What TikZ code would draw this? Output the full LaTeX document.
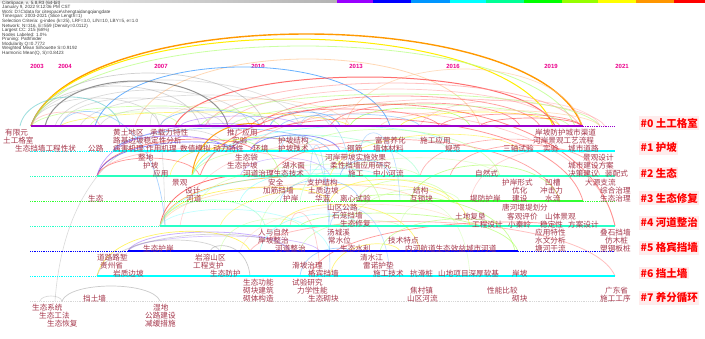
\documentclass[tikz,border=0pt]{standalone}
\usepackage{fontspec}
\newfontfamily\cjk{Noto Sans CJK SC}
\newfontfamily\lib{Liberation Sans}
\definecolor{kw}{RGB}{165,55,75}
\definecolor{clfill}{RGB}{255,236,236}
\definecolor{co}{RGB}{255,153,0}
\definecolor{cy}{RGB}{255,238,0}
\definecolor{cgl}{RGB}{190,255,140}
\definecolor{cpe}{RGB}{255,200,150}
\definecolor{cbl}{RGB}{90,170,255}
\definecolor{cgr}{RGB}{150,150,150}
\definecolor{cdg}{RGB}{100,100,100}
\definecolor{cre}{RGB}{255,50,50}
\definecolor{cpi}{RGB}{255,150,150}
\definecolor{cte}{RGB}{90,200,200}
\definecolor{cpu}{RGB}{150,100,255}
\definecolor{cli}{RGB}{150,255,50}
\definecolor{ccy}{RGB}{100,255,255}
\definecolor{cmi}{RGB}{150,255,200}
\definecolor{cdb}{RGB}{50,50,255}
\definecolor{r0}{RGB}{153,0,204}
\definecolor{r1}{RGB}{0,255,255}
\definecolor{r2}{RGB}{40,255,190}
\definecolor{r3}{RGB}{50,255,50}
\definecolor{r4}{RGB}{40,255,200}
\definecolor{r5}{RGB}{0,0,255}
\definecolor{r6}{RGB}{0,255,255}
\definecolor{r7}{RGB}{215,215,215}
\begin{document}
\begin{tikzpicture}[x=1pt,y=-1pt,
  kwl/.style={anchor=west,inner sep=0pt,text=kw,font=\cjk\fontsize{7.6}{8}\selectfont},
  clab/.style={anchor=west,fill=clfill,text=red,inner sep=1.5pt,font=\cjk\bfseries\fontsize{10.5}{11}\selectfont},
  yr/.style={text=magenta,inner sep=0pt,font=\lib\bfseries\fontsize{6}{6}\selectfont},
  solidrow/.style={line width=1.8pt},
  dotrow/.style={line width=0.8pt,densely dotted}]
\fill[white] (0,0) rectangle (705,338);
\useasboundingbox (0,0) rectangle (705,338);
% top colour bar
\shade[left color=gray!12,right color=gray!60] (0,0) rectangle (337,2.5);
\foreach \xa/\xb/\cc in {337/373/{rgb,255:red,153;green,0;blue,255},373/411/{rgb,255:red,0;green,0;blue,255},411/450/{rgb,255:red,0;green,150;blue,255},450/486/{rgb,255:red,0;green,255;blue,255},486/524/{rgb,255:red,0;green,255;blue,150},524/562/{rgb,255:red,0;green,255;blue,0},562/598/{rgb,255:red,150;green,255;blue,0},598/636/{rgb,255:red,255;green,255;blue,0},636/674/{rgb,255:red,255;green,150;blue,0},674/705/{rgb,255:red,255;green,0;blue,0}}
  \fill[color=\cc] (\xa,0) rectangle (\xb,2.5);
% header
\node[anchor=north west,inner sep=0pt,align=left,text=black!75,font=\lib\fontsize{4.6}{4.55}\selectfont] (hdr) at (2,0.8) {CiteSpace, v. 5.8.R3 (64-bit)\\
January 9, 2022 9:12:06 PM CST\\
WoS: D:\textbackslash C\textbackslash data for citespace\textbackslash shengtaidangqiangdate\\
Timespan: 2003-2021 (Slice Length=1)\\
Selection Criteria: g-index (k=25), LRF=3.0, L/N=10, LBY=5, e=1.0\\
Network: N=316, E=559 (Density=0.0112)\\
Largest CC: 215 (68\%)\\
Nodes Labeled: 1.0\%\\
Pruning: Pathfinder\\
Modularity Q=0.7772\\
Weighted Mean Silhouette S=0.9192\\
Harmonic Mean(Q, S)=0.8423};
% years
\foreach \x/\t in {37/2003,65/2004,161/2007,258/2010,356/2013,453/2016,551/2019,622/2021}
  \node[yr] (y\t) at (\x,66.5) {\t};
% arcs
\foreach \xa/\ya/\xb/\yb/\pk/\col/\op/\lw in {
31/126/582/126/34/co/1/1.4,
31/126/553/126/39/cy/1/1,
31/126/575/126/46/cgl/.8/.8,
135/126/480/126/59/cpe/.7/.8,
95/126/390/126/67/cbl/.9/.8,
345/126/582/126/69/cpe/.6/.7,
175/126/555/126/77/cre/.7/1,
205/126/580/126/83/cpi/.6/.8,
225/126/560/126/89/cpi/.5/.7,
260/126/540/126/96/cre/.45/.8,
300/126/605/126/99/cpi/.5/.7,
330/126/520/126/103/cre/.5/.7,
250/126/440/126/109/cre/.55/.7,
200/126/600/126/94/cgl/.7/.8,
230/126/570/126/104/cgl/.7/.7,
350/126/470/126/108/cli/.6/.7,
380/126/600/126/110/cpe/.6/.7,
160/126/350/126/99/cpe/.5/.7,
280/126/420/126/114/cbl/.5/.7,
400/126/560/126/112/cy/.6/.7,
420/126/600/126/100/cpi/.4/.7,
270/126/340/126/112/cbl/.7/.7,
31/126/265/126/73/cgr/.45/.7,
45/126/228/126/81/cdg/.7/1,
31/126/200/126/86/cgr/.4/.7,
55/126/250/126/90/cgr/.35/.7,
31/126/160/126/98/cgr/.35/.7,
60/126/210/126/98/cgr/.3/.7,
31/126/300/126/80/cgr/.3/.7,
80/126/330/126/95/cgr/.3/.7,
100/126/225/126/108/cgr/.3/.7,
20/126/120/126/97/cte/.6/.8,
31/126/280/126/106/cgl/.7/.7,
60/126/350/126/112/cy/.5/.7,
90/126/180/126/112/cgl/.6/.7,
160/126/260/126/110/cbl/.6/.7,
31/126/100/126/112/cpi/.5/.7,
180/126/300/126/116/cpu/.5/.7,
440/126/582/126/114/cre/.5/.7,
480/126/582/126/118/cre/.6/.7,
97/176/255/151/140/cre/.6/.7,
97/176/240/151/143/cdb/.6/.7,
97/176/250/126/128/cpu/.6/.7,
97/176/200/176/158/cre/.5/.7,
97/176/310/176/148/cpi/.5/.7,
113/151/230/151/136/cpu/.7/.8,
113/151/330/151/128/cbl/.6/.7,
192/176/262/126/128/co/.9/1,
192/176/300/151/138/cy/.7/.7,
192/176/420/176/135/cmi/.6/.7,
192/176/460/151/127/ccy/.5/.7,
192/176/380/201/150/cgl/.6/.7,
160/226/260/176/180/cre/.7/.8,
160/226/300/176/183/co/.6/.7,
160/226/330/201/188/cy/.6/.7,
160/226/360/176/178/ccy/.5/.7,
160/226/420/201/185/cpe/.6/.7,
160/226/265/226/200/cmi/.6/.7,
60/126/165/226/118/cbl/.5/.7,
55/301/230/151/140/cgr/.35/.6,
97/276/250/251/232/cy/.6/.7,
97/276/290/251/235/cgr/.4/.7,
128/251/290/251/232/cpu/.5/.8,
128/251/320/251/236/cpu/.4/.7,
128/251/220/251/240/cgr/.4/.7,
62/301/160/301/286/cgr/.5/.7,
40/301/62/301/296/cgr/.4/.6,
210/251/250/276/247/cgr/.5/.7,
310/276/560/226/226/cre/.5/.7,
250/251/615/276/222/cpi/.6/.8,
300/226/518/251/214/cli/.5/.7,
350/201/515/251/198/cli/.5/.7,
200/176/615/226/105/cre/.55/.8,
250/151/615/226/115/cpi/.5/.7,
230/151/583/201/120/cre/.5/.8,
270/176/560/201/140/cre/.45/.7,
300/151/500/176/130/cgl/.6/.7,
330/201/470/226/180/cy/.5/.7,
280/226/420/251/205/cy/.5/.7,
300/251/400/226/222/cgl/.5/.7,
160/226/330/251/210/ccy/.4/.7,
330/276/400/251/245/cy/.5/.7,
300/276/350/251/250/cbl/.5/.7,
357/201/450/201/180/cgl/.6/.7,
410/201/560/201/165/cli/.5/.7,
450/176/600/176/145/cre/.4/.7,
470/201/615/176/150/cpi/.4/.7,
230/151/300/151/138/cpu/.6/.7,
250/151/340/151/135/cdb/.5/.8,
340/176/390/176/160/cbl/.6/.7,
280/151/330/226/140/cbl/.4/.6,
310/176/330/276/150/cbl/.4/.6,
150/126/165/226/120/cgr/.3/.6,
200/201/420/176/165/cgl/.5/.6,
220/226/450/201/185/cy/.45/.6,
240/201/380/176/170/ccy/.5/.6,
260/226/500/176/160/cgl/.45/.6,
180/226/350/151/150/cpi/.4/.6,
300/201/450/151/140/cmi/.5/.6,
330/176/520/151/135/cy/.5/.6,
260/251/360/226/215/ccy/.5/.6,
220/251/300/226/220/cgl/.5/.6,
240/251/460/226/205/cpe/.4/.6,
280/201/360/201/180/cbl/.5/.6,
350/226/460/201/190/cgl/.5/.6,
380/251/500/226/220/cli/.45/.6,
420/176/560/151/140/cre/.4/.6,
200/151/280/176/140/cli/.5/.6,
170/176/230/151/150/cy/.5/.6,
240/176/330/176/158/cpu/.4/.6,
300/126/350/176/118/cbl/.4/.6,
360/151/400/201/135/cbl/.4/.6,
330/226/390/276/210/cbl/.4/.6,
290/226/320/276/215/cpi/.5/.6,
400/226/470/276/205/cgl/.4/.6}{
  \pgfmathsetmacro\cy{(\pk-(\ya+\yb)/8)*4/3}
  \pgfmathsetmacro\dx{0.08*(\xb-\xa)}
  \draw[color=\col,draw opacity=\op,line width=\lw pt] (\xa,\ya) .. controls ({\xa+\dx},\cy) and ({\xb-\dx},\cy) .. (\xb,\yb);
}
% timeline rows
\draw[solidrow,r0] (31,126) -- (583,126);
\draw[dotrow,r0] (583,126) -- (615,126);
\draw[dotrow,r1] (30,151) -- (113,151);
\draw[solidrow,r1] (113,151) -- (615,151);
\draw[dotrow,r2] (30,176) -- (97,176);
\draw[solidrow,r2] (97,176) -- (615,176);
\draw[dotrow,r3] (30,201) -- (357,201);
\draw[solidrow,r3] (357,201) -- (583,201);
\draw[dotrow,r3] (583,201) -- (615,201);
\draw[dotrow,r4] (30,226) -- (160,226);
\draw[solidrow,r4] (160,226) -- (615,226);
\draw[dotrow,r5] (30,251) -- (128,251);
\draw[solidrow,r5] (128,251) -- (518,251);
\draw[dotrow,r5] (518,251) -- (615,251);
\draw[dotrow,r6] (30,276) -- (97,276);
\draw[solidrow,r6] (97,276) -- (615,276);
\draw[dotrow,r7] (30,301) -- (615,301);
% keyword labels
\foreach \x/\y/\t [count=\i] in {
5/133/有限元, 3/141/土工格室, 15/149/生态挡墙工程性状, 88/149/公路,
113/133/黄土地区, 150/133/承载力特性, 113/141/路基边坡稳定性分析,
113/149/病害机理, 146/149/作用机理, 180/149/数值模拟, 213/149/动力特性,
227/133/推广应用, 232/141/实验, 253/149/环境, 278/141/护坡结构, 278/149/护坡技术,
347/149/钢筋, 375/141/富营养化, 373/149/墙体材料, 420/141/施工应用, 445/149/规范,
535/133/岸坡防护城市渠道, 533/141/河岸景观工艺流程, 503/149/三轴试验, 543/149/实验, 568/149/城市道路,
138/158/整地, 143/166/护坡, 153/174/应用, 235/158/生态袋, 227/166/生态护坡,
243/174/河道治理生态技术, 282/166/湖水面, 325/158/河岸带坡实施效果, 330/166/柔性挡墙应用研究,
348/174/施工, 373/174/中小河流, 475/174/自然式, 583/158/景观设计, 568/166/城市建设方案,
568/174/决策建议, 605/174/装配式,
172/183/景观, 185/191/设计, 186/199/河道, 88/199/生态, 268/183/安全, 263/191/加筋挡墙,
283/199/护岸, 307/183/支护结构, 308/191/土质边坡, 315/199/华蓝, 340/199/离心试验,
413/191/结构, 410/199/互锁块, 502/183/护岸形式, 545/183/凹槽, 512/191/优化, 540/191/冲击力,
470/199/堤防护岸, 512/199/建设, 545/199/水流, 585/183/大源支流, 600/191/综合治理, 600/199/生态治理,
327/208/山区公路, 332/216/石笼挡墙, 340/224/生态修复, 502/208/唐河堰堤划分, 455/217/土地复垦,
507/217/客观评价, 545/217/山体景观, 472/225/工程设计, 508/225/小秦岭, 540/225/稳定性, 568/225/方案设计,
258/233/人与自然, 258/241/岸坡整治, 275/249/河道整治, 327/233/汤城溪, 328/241/常水位,
340/249/生态水利, 388/241/技术特点, 405/249/内河航道生态效益城市河道, 535/233/应用特性,
535/241/水文分析, 535/249/塘河干流, 600/233/叠石挡墙, 605/241/仿木桩, 600/249/塑钢板桩, 143/249/生态护岸,
97/258/道路路堑, 100/266/贵州省, 113/274/岩质边坡, 195/258/岩溶山区, 193/266/工程支护, 210/274/生态防护,
292/266/滑坡治理, 308/274/格宾挡墙, 360/258/清水江, 363/266/雷诺护垫, 373/274/施工技术, 410/274/抗滑桩,
438/274/山地项目深厚软基, 512/274/岸坡,
243/283/生态功能, 243/291/砌块建筑, 243/299/砌体构造, 292/283/试验研究, 297/291/力学性能, 308/299/生态砌块,
410/291/焦村镇, 407/299/山区河流, 487/291/性能比较, 512/299/砌块, 605/291/广东省, 600/299/施工工序, 83/299/挡土墙,
32/308/生态系统, 39/316/生态工法, 47/324/生态恢复, 153/308/湿地, 145/316/公路建设, 145/324/减缓措施}
  \node[kwl] (k\i) at (\x,\y) {\t};
% cluster labels
\foreach \n/\y/\t in {0/123/土工格室,1/148/护坡,2/173/生态,3/198/生态修复,4/223/河道整治,5/248/格宾挡墙,6/273/挡土墙,7/298/养分循环}
  \node[clab] (c\n) at (639,\y) {\#\n\ \t};
\end{tikzpicture}
\end{document}
